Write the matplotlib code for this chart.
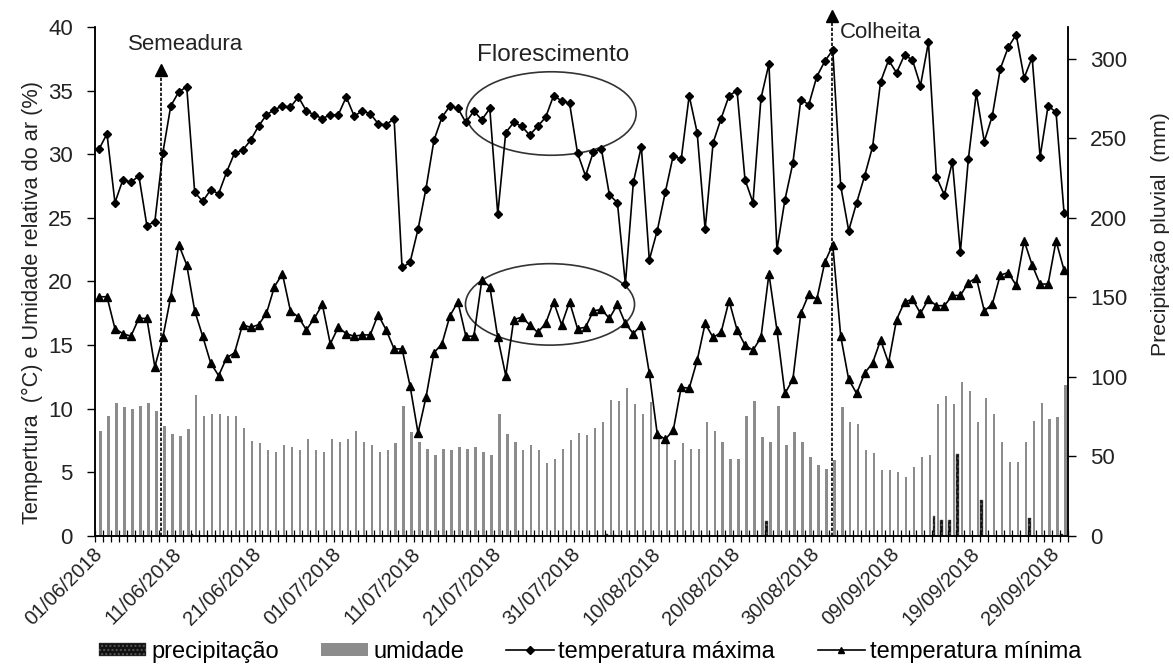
import numpy as np
import pandas as pd
import matplotlib
matplotlib.use("Agg")
import matplotlib.pyplot as plt
from matplotlib.patches import Ellipse, Patch
from matplotlib.lines import Line2D

plt.rcParams['font.family'] = ['Liberation Sans', 'DejaVu Sans']

# Dados diários de 01/06/2018 a 30/09/2018
datas = pd.date_range('2018-06-01', '2018-09-30', freq='D')

temp_max = [30.4, 31.6, 26.2, 28.0, 27.8, 28.3, 24.4, 24.7, 30.1, 33.8,
            34.9, 35.3, 27.0, 26.3, 27.2, 26.9, 28.6, 30.1, 30.3, 31.1,
            32.2, 33.1, 33.5, 33.8, 33.7, 34.5, 33.4, 33.1, 32.8, 33.1,
            33.1, 34.5, 33.0, 33.4, 33.2, 32.4, 32.3, 32.8, 21.1, 21.5,
            24.1, 27.3, 31.1, 32.9, 33.8, 33.6, 32.5, 33.4, 32.7, 33.6,
            25.3, 31.7, 32.5, 32.2, 31.5, 32.2, 32.9, 34.6, 34.2, 34.0,
            30.1, 28.3, 30.2, 30.4, 26.8, 26.2, 19.8, 27.8, 30.6, 21.7,
            24.0, 27.0, 29.9, 29.6, 34.6, 31.7, 24.1, 30.9, 32.8, 34.6,
            35.0, 28.0, 26.2, 34.4, 37.1, 22.5, 26.4, 29.3, 34.3, 33.9,
            36.1, 37.3, 38.2, 27.5, 24.0, 26.2, 28.3, 30.6, 35.7, 37.4,
            36.4, 37.8, 37.4, 35.4, 38.8, 28.2, 26.8, 29.4, 22.3, 29.6,
            34.8, 31.0, 33.0, 36.7, 38.4, 39.4, 36.0, 37.6, 29.8, 33.8,
            33.3, 25.4]

temp_min = [18.8, 18.8, 16.3, 15.9, 15.7, 17.1, 17.1, 13.3, 15.6, 18.8,
            22.9, 21.3, 17.7, 15.7, 13.6, 12.6, 14.0, 14.4, 16.6, 16.4,
            16.6, 17.5, 19.6, 20.6, 17.7, 17.2, 16.2, 17.1, 18.2, 15.1,
            16.4, 15.9, 15.7, 15.8, 15.8, 17.4, 16.2, 14.7, 14.7, 11.8,
            8.1, 10.9, 14.4, 15.1, 17.3, 18.4, 15.7, 15.7, 20.1, 19.6,
            15.6, 12.6, 17.0, 17.2, 16.6, 16.0, 16.7, 18.4, 16.6, 18.4,
            16.3, 16.4, 17.7, 17.8, 17.1, 18.2, 16.7, 15.9, 16.6, 12.8,
            8.0, 7.6, 8.3, 11.7, 11.6, 13.8, 16.7, 15.6, 16.0, 18.5,
            16.2, 15.0, 14.6, 15.6, 20.6, 16.2, 11.2, 12.3, 17.5, 19.0,
            18.6, 21.5, 22.9, 15.7, 12.3, 11.2, 12.8, 13.6, 15.4, 13.6,
            17.0, 18.4, 18.6, 17.5, 18.6, 18.1, 18.1, 18.9, 18.9, 19.9,
            20.3, 17.7, 18.2, 20.5, 20.7, 19.7, 23.2, 21.3, 19.8, 19.8,
            23.2, 20.9]

umidade = [66.1, 75.6, 83.6, 80.8, 79.8, 81.5, 83.6, 78.3, 69.3, 64.1,
           63.0, 67.2, 88.8, 75.6, 76.7, 76.7, 75.6, 75.6, 68.2, 59.8,
           58.2, 54.0, 52.9, 57.1, 56.1, 54.0, 60.9, 54.0, 52.9, 60.9,
           59.2, 60.9, 66.1, 59.2, 57.1, 52.9, 54.0, 58.2, 81.9, 65.1,
           59.2, 55.0, 50.8, 55.0, 54.0, 56.1, 55.0, 56.1, 52.9, 50.8,
           76.7, 64.1, 59.2, 54.0, 57.1, 54.0, 45.6, 48.7, 55.0, 60.3,
           64.5, 63.4, 68.2, 71.4, 85.7, 84.6, 93.0, 83.0, 76.7, 84.0,
           60.9, 59.8, 47.7, 58.2, 55.0, 55.0, 71.4, 66.1, 59.2, 48.7,
           48.7, 75.6, 84.6, 62.4, 59.2, 81.5, 57.1, 65.1, 59.2, 49.8,
           44.5, 42.4, 47.7, 80.8, 71.4, 70.4, 54.0, 51.9, 41.4, 41.4,
           40.3, 37.2, 43.5, 49.8, 50.8, 83.0, 87.8, 83.0, 97.0, 90.9,
           71.4, 86.7, 76.7, 59.2, 46.6, 46.6, 59.2, 72.4, 83.6, 73.5,
           74.5, 94.9]

# chuva (mm) - dias sem registro ficam em zero
precipitacao = [0.0] * len(datas)
for dia, mm in {12: 1.0, 64: 1.0, 65: 0.8, 84: 9.4, 105: 12.6, 106: 10.1,
                107: 10.1, 108: 51.4, 111: 22.5, 117: 11.5, 121: 1.5}.items():
    precipitacao[dia] = mm

rotulos = [d.strftime('%d/%m/%Y') for d in datas]
dia_semeadura = 7.8
dia_colheita = 91.85

x = np.arange(len(datas))

fig = plt.figure(figsize=(11.73, 6.68), dpi=100)
ax = fig.add_axes([0.081, 0.1976, 0.8295, 0.762])
ax2 = ax.twinx()

# barras no eixo secundário (mm e %)
ax2.bar(x - 0.33, precipitacao, width=0.32, color='#111111', edgecolor='#555555',
        linewidth=0.3, hatch='....')
ax2.bar(x + 0.2, umidade, width=0.3, color='#8c8c8c', linewidth=0)
ax2.set_ylim(0, 320)
ax2.set_yticks(range(0, 301, 50))

# temperaturas no eixo principal
ax.plot(x, temp_max, color='black', lw=1.2, marker='D', ms=4.5, zorder=5)
ax.plot(x, temp_min, color='black', lw=1.2, marker='^', ms=6, zorder=5)
ax.set_zorder(ax2.get_zorder() + 1)
ax.patch.set_visible(False)

ax.set_ylim(0, 40)
ax.set_yticks(range(0, 41, 5))
ax.set_xlim(-0.5, len(datas) - 0.5)

ax.set_xticks(x[::10])
ax.set_xticklabels(rotulos[::10], rotation=45, ha='right', va='center',
                   rotation_mode='anchor', fontsize=14.5, color='#222222')
ax.set_xticks(np.arange(-0.5, len(datas), 1), minor=True)
ax.tick_params(axis='x', which='major', length=0, pad=11)
ax.tick_params(axis='x', which='minor', direction='inout', length=9, width=0.9)
ax.tick_params(axis='y', labelsize=16, length=6, width=1, pad=10, labelcolor='#222222')
ax2.tick_params(axis='y', labelsize=16, length=6, width=1, pad=10, labelcolor='#222222')

for a in (ax, ax2):
    a.spines['top'].set_visible(False)
    for s in ('left', 'right', 'bottom'):
        a.spines[s].set_linewidth(1.1)

# marcações de semeadura e colheita
ax.plot([dia_semeadura, dia_semeadura], [0, 36.5], color='black', lw=1.2,
        ls=(0, (2, 1)), zorder=6)
ax.plot(dia_semeadura, 36.6, marker='^', ms=9, color='black', zorder=6)
ax.text(dia_semeadura + 3.1, 38.6, 'Semeadura', fontsize=16, ha='center',
        va='center', color='#222222')

ax.plot([dia_colheita, dia_colheita], [0, 40.8], color='black', lw=1.2,
        ls=(0, (2, 1)), zorder=6, clip_on=False)
ax.plot(dia_colheita, 40.9, marker='^', ms=9, color='black', zorder=6,
        clip_on=False)
ax.text(dia_colheita + 1.0, 39.6, 'Colheita', fontsize=16, ha='left',
        va='center', color='#222222')

# período de florescimento
ax.add_patch(Ellipse((56.7, 33.2), 21.3, 6.56, fill=False, ec='#333333', lw=1.2, zorder=4))
ax.add_patch(Ellipse((56.55, 18.2), 21.2, 6.4, fill=False, ec='#333333', lw=1.2, zorder=4))
ax.text(57.0, 37.8, 'Florescimento', fontsize=17.5, ha='center', va='center',
        color='#222222')

fig.text(32 / 1173, 1 - 303 / 668, 'Tempertura  (°C) e Umidade relativa do ar (%)',
         rotation=90, ha='center', va='center', fontsize=15.7, color='#222222')
fig.text(1160 / 1173, 1 - 234 / 668, 'Precipitação pluvial  (mm)',
         rotation=90, ha='center', va='center', fontsize=15.3, color='#222222')

handles = [
    Patch(facecolor='#111111', edgecolor='#555555', hatch='....', linewidth=0.3),
    Patch(facecolor='#8c8c8c'),
    Line2D([], [], color='black', lw=1.2, marker='D', ms=4),
    Line2D([], [], color='black', lw=1.2, marker='^', ms=5),
]
nomes = ['precipitação', 'umidade', 'temperatura máxima', 'temperatura mínima']
fig.legend(handles, nomes, loc='center', bbox_to_anchor=(590 / 1173, 1 - 652 / 668),
           ncol=4, frameon=False, fontsize=17, handlelength=2.0, handleheight=0.5,
           handletextpad=0.2, columnspacing=1.8, borderpad=0)

fig.savefig('out.png', dpi=100)
